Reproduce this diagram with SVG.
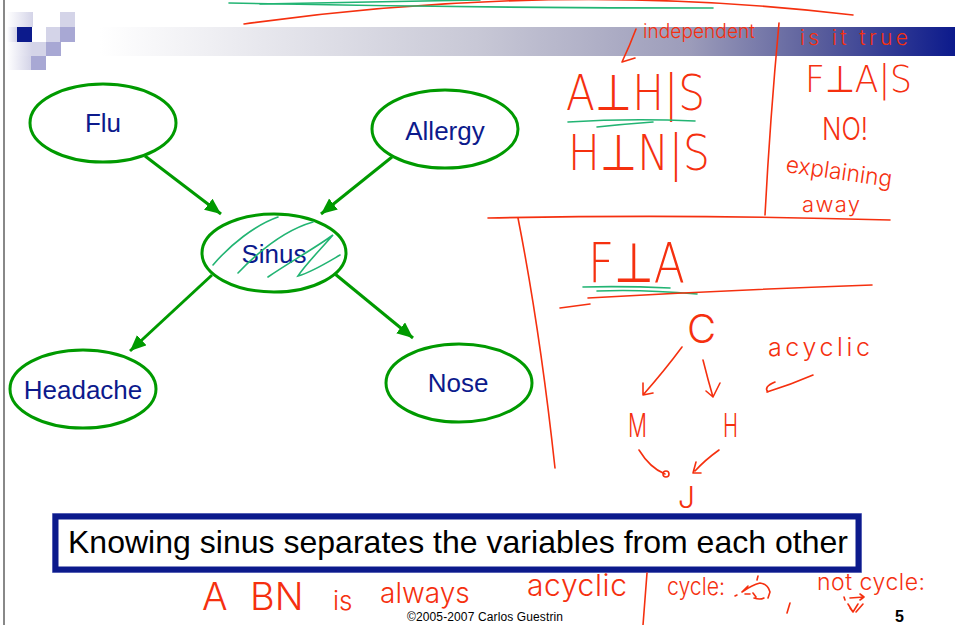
<svg xmlns="http://www.w3.org/2000/svg" width="955" height="625" viewBox="0 0 955 625">
<defs>
<linearGradient id="bar" x1="100" y1="0" x2="955" y2="0" gradientUnits="userSpaceOnUse">
<stop offset="0" stop-color="#ffffff"/>
<stop offset="0.44" stop-color="#c8c8d6"/>
<stop offset="0.69" stop-color="#9c9cba"/>
<stop offset="0.84" stop-color="#5a5e9c"/>
<stop offset="1" stop-color="#0c1a8c"/>
</linearGradient>
<linearGradient id="fade" x1="0" y1="0" x2="1" y2="0">
<stop offset="0" stop-color="#ffffff"/>
<stop offset="1" stop-color="#d4d4e8"/>
</linearGradient>
<marker id="arr" markerUnits="userSpaceOnUse" markerWidth="18" markerHeight="16" refX="16" refY="7" orient="auto">
<path d="M0,0 L16,7 L0,14 z" fill="#009a00"/>
</marker>
</defs>
<style>
.node ellipse{fill:#ffffff;stroke:#009a00;stroke-width:3}
.node text{font-family:"Liberation Sans",Arial,sans-serif;font-size:26px;fill:#0c1a8c;text-anchor:middle}
.edge{stroke:#009a00;stroke-width:3;fill:none;marker-end:url(#arr)}
.ink{fill:none;stroke:#f5300f;stroke-width:1.6;stroke-linecap:round;stroke-linejoin:round}
.gink{fill:none;stroke:#22b473;stroke-width:1.6;stroke-linecap:round}
.hw{font-family:Inter,"Liberation Sans","DejaVu Sans",sans-serif;font-weight:300;fill:#f5300f}
.math{font-family:"DejaVu Sans",sans-serif;font-weight:200;fill:#f5300f}
</style>
<rect width="955" height="625" fill="#ffffff"/>
<line x1="4" y1="0" x2="4" y2="625" stroke="#606060" stroke-width="1.5"/>
<g id="header">
<rect x="100" y="27" width="855" height="29" fill="url(#bar)"/>
<rect x="7" y="12" width="26" height="15" fill="url(#fade)"/>
<rect x="7" y="27" width="10" height="15" fill="url(#fade)"/>
<rect x="7" y="42" width="25" height="14" fill="url(#fade)"/>
<rect x="7" y="56" width="24" height="14" fill="url(#fade)"/>
<rect x="17" y="27" width="15" height="15" fill="#0c1a8c"/>
<rect x="60" y="12" width="15" height="15" fill="#d4d4e8"/>
<rect x="46" y="27" width="14" height="15" fill="#d4d4e8"/>
<rect x="60" y="27" width="15" height="15" fill="#a8a8d4"/>
<rect x="32" y="42" width="14" height="14" fill="#d4d4e8"/>
<rect x="46" y="42" width="15" height="14" fill="#a8a8d4"/>
<rect x="31" y="56" width="15" height="14" fill="#a8a8d4"/>
</g>
<g id="connectors">
<line class="edge" x1="145" y1="156" x2="221" y2="214"/>
<line class="edge" x1="392" y1="157" x2="321" y2="214"/>
<line class="edge" x1="212" y1="275" x2="130" y2="351"/>
<line class="edge" x1="335" y1="274" x2="413" y2="338"/>
</g>
<g id="node-flu" class="node">
<ellipse cx="103" cy="123" rx="73" ry="39"/>
<text x="103" y="132">Flu</text>
</g>
<g id="node-allergy" class="node">
<ellipse cx="445" cy="129" rx="73" ry="39"/>
<text x="445" y="140">Allergy</text>
</g>
<g id="node-sinus" class="node">
<ellipse cx="274" cy="253" rx="72" ry="39"/>
<text x="274" y="263">Sinus</text>
</g>
<g id="node-headache" class="node">
<ellipse cx="83" cy="389" rx="73" ry="39"/>
<text x="83" y="399">Headache</text>
</g>
<g id="node-nose" class="node">
<ellipse cx="459" cy="383" rx="73" ry="39"/>
<text x="458" y="392">Nose</text>
</g>
<g id="sinus-hatch">
<path class="gink" d="M213,265 C230,245 255,225 278,217"/>
<path class="gink" d="M238,273 C260,250 285,230 313,222"/>
<path class="gink" d="M268,277 C290,262 315,248 333,235 C320,250 305,265 298,276 C312,272 328,262 340,255"/>
</g>
<g id="callout">
<rect x="52.5" y="513.5" width="809" height="59" fill="none" stroke="#a0a6dc" stroke-width="1"/>
<rect x="55.5" y="516.5" width="803" height="53" fill="#ffffff" stroke="#0c1a8c" stroke-width="6"/>
<text x="68" y="553" font-family="Liberation Sans,Arial,sans-serif" font-size="32" fill="#000000" textLength="780">Knowing sinus separates the variables from each other</text>
</g>
<text x="407" y="621" font-family="Liberation Sans,Arial,sans-serif" font-size="12" fill="#000000" textLength="156">©2005-2007 Carlos Guestrin</text>
<text x="895" y="622" font-family="Liberation Sans,Arial,sans-serif" font-size="16" font-weight="bold" fill="#000000">5</text>
<g id="annotations">
<path class="ink" d="M244,24 Q560,-20 853,15"/>
<path class="gink" d="M229,3 Q470,8 713,8"/>
<path class="gink" d="M260,4 Q380,2 480,0"/>
<path class="ink" d="M636,29 Q630,45 622,62 L635,58"/>
<text class="hw" x="643" y="38" font-size="20" textLength="112" lengthAdjust="spacingAndGlyphs">independent</text>
<text class="hw" x="800" y="45" font-size="21" textLength="108" lengthAdjust="spacing">is it true</text>
<text class="math" x="566" y="110" font-size="50" textLength="139" lengthAdjust="spacingAndGlyphs">A⊥H|S</text>
<path class="gink" d="M568,122 Q630,118 695,121"/>
<path class="gink" d="M597,127 Q625,124 653,122"/>
<text class="math" x="568" y="170" font-size="50" textLength="142" lengthAdjust="spacingAndGlyphs">H⊥N|S</text>
<path class="ink" d="M779,23 Q770,120 765,215"/>
<text class="math" x="805" y="92" font-size="37" textLength="107" lengthAdjust="spacingAndGlyphs">F⊥A|S</text>
<text class="hw" x="822" y="140" font-size="31" textLength="46" lengthAdjust="spacingAndGlyphs">NO!</text>
<text class="hw" x="785" y="172" font-size="23" textLength="107" lengthAdjust="spacingAndGlyphs" transform="rotate(8 785 172)">explaining</text>
<text class="hw" x="802" y="212" font-size="22" textLength="58" lengthAdjust="spacing">away</text>
<path class="ink" d="M488,218 Q690,214 890,220"/>
<path class="ink" d="M518,218 Q540,330 555,468"/>
<text class="math" x="588" y="282" font-size="55" textLength="97" lengthAdjust="spacingAndGlyphs">F⊥A</text>
<path class="gink" d="M583,287 Q625,286 670,288"/>
<path class="gink" d="M597,291 Q640,289 697,294" stroke-width="3"/>
<path class="ink" d="M588,298 Q730,290 872,285"/>
<path class="ink" d="M560,308 Q575,306 590,304"/>
<text class="hw" x="687" y="343" font-size="40">C</text>
<path class="ink" d="M682,347 Q665,370 643,395 M643,383 L643,395 L653,393"/>
<path class="ink" d="M703,360 Q708,380 713,397 M706,391 L713,397 L720,383"/>
<text class="hw" x="768" y="356" font-size="25" textLength="102" lengthAdjust="spacing">acyclic</text>
<path class="ink" d="M813,375 Q790,385 767,392 M775,382 Q763,387 768,392"/>
<text class="hw" x="628" y="437" font-size="32" textLength="19" lengthAdjust="spacingAndGlyphs">M</text>
<text class="hw" x="723" y="437" font-size="32" textLength="15" lengthAdjust="spacingAndGlyphs">H</text>
<path class="ink" d="M639,450 Q650,468 665,474"/>
<circle cx="666" cy="474" r="3" class="ink"/>
<path class="ink" d="M719,450 Q705,460 695,471 M696,462 L693,473 L701,473"/>
<text class="hw" x="678" y="508" font-size="30" textLength="17" lengthAdjust="spacingAndGlyphs">J</text>
<text class="hw" y="610" font-size="38"><tspan x="202">A</tspan><tspan x="250">BN</tspan><tspan x="333" font-size="26">is</tspan><tspan x="380" y="603" font-size="28">always</tspan></text>
<text class="hw" x="527" y="596" font-size="30" textLength="100" lengthAdjust="spacing">acyclic</text>
<path class="ink" d="M647,573 L643,625"/>
<text class="hw" x="667" y="595" font-size="24" textLength="58" lengthAdjust="spacingAndGlyphs">cycle:</text>
<path class="ink" d="M735,596 L737,595 M742,592 Q752,585 760,583 M742,592 L748,586 M745,594 L750,594 M757,580 L758,576 M760,583 Q768,584 770,592 L768,598 M764,598 Q760,600 754,598 M753,593 L756,597"/>
<path class="ink" d="M790,603 L787,613"/>
<text class="hw" x="817" y="590" font-size="23" textLength="108" lengthAdjust="spacing">not cycle:</text>
<path class="ink" d="M844,597 L845,600 M850,598 L864,597 M860,594 L864,597 L860,600 M848,604 L853,612 L858,604 M856,612 L863,604 M853,612 L850,608"/>
</g>
</svg>
